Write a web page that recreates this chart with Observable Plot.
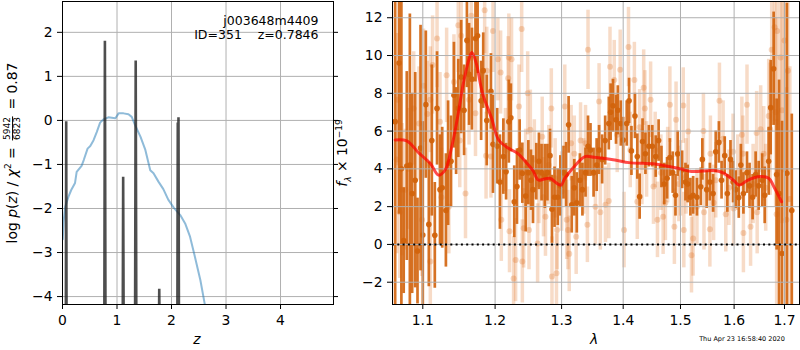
<!DOCTYPE html>
<html><head><meta charset="utf-8">
<script src="https://cdn.jsdelivr.net/npm/d3@7"></script>
<script src="https://cdn.jsdelivr.net/npm/@observablehq/plot@0.6"></script>
<style>
body{margin:0;background:#fff;}
#wrap{position:relative;width:800px;height:350px;font-family:"DejaVu Sans",sans-serif;overflow:hidden;background:#fff}
#wrap svg{position:absolute;top:0;overflow:visible}
.lbl{position:absolute;color:#000;white-space:nowrap;line-height:1}
.rot{transform:translate(-50%,-50%) rotate(-90deg)}
.frac{display:inline-block;vertical-align:middle;font-size:9px;text-align:center;line-height:1.05;margin:0 2px}
.frac span{display:block;padding:0 1px}
.frac span.num{border-bottom:0.8px solid #000}
</style></head><body><div id="wrap"></div>
<script>
// ---------- left panel data: log p(z) ----------
const zTicks = [0, 1, 2, 3, 4];
const pTicks = [-4, -3, -2, -1, 0, 1, 2];
const blueZ = [0.005,0.02,0.05,0.11,0.16,0.23,0.26,0.35,0.39,0.46,0.51,0.57,0.63,0.69,0.75,0.84,0.97,1.03,1.12,1.21,1.27,1.33,1.43,1.52,1.61,1.67,1.76,1.85,1.94,2.04,2.16,2.25,2.34,2.43,2.53,2.61,2.70];
const blueP = [-2.7,-2.3,-1.96,-1.73,-1.58,-1.42,-1.17,-1.03,-0.9,-0.64,-0.58,-0.45,-0.26,-0.05,0.02,0.07,0.05,0.16,0.16,0.14,0.08,-0.1,-0.37,-0.67,-1.13,-1.2,-1.39,-1.56,-1.8,-1.98,-2.15,-2.34,-2.64,-3.1,-3.63,-4.17,-4.9];
const spikeZ = [0.04,0.062,0.068,0.074,0.10, 0.745,0.768,0.778,0.788,0.81, 1.09,1.106,1.113,1.121,1.14, 1.30,1.332,1.343,1.354,1.39, 1.76,1.771,1.775,1.779,1.79, 2.08,2.108,2.115,2.12,2.128,2.136,2.17];
const spikeP = [-12,-4.3,-0.02,-4.3,-12, -12,-4.3,1.81,-4.3,-12, -12,-4.3,-1.28,-4.3,-12, -12,-4.3,1.36,-4.3,-12, -12,-4.5,-3.82,-4.5,-12, -12,-4.3,-0.05,-2.0,0.07,-4.3,-12];
const annotLines = ["j003648m4409", "ID=351\u00a0\u00a0\u00a0\u00a0z=0.7846"];

// ---------- right panel data: spectrum ----------
const lamTicks = [1.1, 1.2, 1.3, 1.4, 1.5, 1.6, 1.7];
const fTicks = [-2, 0, 2, 4, 6, 8, 10, 12];
const darkLam = [1.064,1.069,1.072,1.075,1.079,1.083,1.086,1.090,1.093,1.097,1.100,1.104,1.108,1.112,1.116,1.119,1.123,1.126,1.131,1.134,1.138,1.142,1.145,1.148,1.152,1.156,1.160,1.163,1.167,1.172,1.175,1.180,1.183,1.188,1.194,1.197,
1.203,1.207,1.212,1.216,1.220,1.223,1.228,1.232,1.236,1.240,1.245,1.249,1.253,1.256,1.261,1.265,1.269,1.274,1.278,1.282,1.285,1.289,1.294,1.298,1.303,1.307,1.311,1.316,1.320,1.324,1.329,1.333,1.338,1.342,1.346,1.351,1.356,1.360,
1.365,1.370,1.376,1.379,1.383,1.388,1.391,1.396,1.400,1.406,1.410,1.414,1.420,1.424,1.428,1.433,1.438,1.444,1.450,1.456,1.461,1.466,1.471,1.476,1.481,1.486,1.491,1.495,1.503,1.509,1.513,1.518,1.523,1.530,1.537,
1.540,1.548,1.554,1.560,1.565,1.571,1.576,1.582,1.587,1.593,1.598,1.603,1.609,1.613,1.618,1.625,1.630,1.636,1.642,1.648,1.655,1.660,1.668,1.672,1.678,1.684,1.689,1.695,1.705,1.715];
const darkFlux = [6.5,9.6,4.0,0.2,4.15,4.2,2.7,3.4,-0.35,5.1,0.5,7.4,1.06,5.5,0.48,7.2,2.9,3.0,1.8,4.3,4.4,7.9,6.0,7.2,8.86,7.1,10.8,9.0,8.75,10.9,11.05,7.6,9.2,6.56,8.1,5.3,
5.2,3.3,4.65,3.85,6.5,6.7,2.26,3.06,5.0,3.77,2.56,3.8,3.4,2.9,3.85,4.4,3.8,3.6,3.8,4.7,1.86,2.5,2.5,3.1,3.8,3.7,6.33,2.1,3.0,2.2,3.4,2.9,3.8,5.2,5.0,3.8,4.2,5.0,
4.5,5.5,6.4,7.0,7.34,6.6,7.1,6.4,5.53,6.4,7.6,4.95,6.8,4.65,2.53,5.45,4.8,5.2,5.2,4.65,5.5,4.1,3.2,3.5,4.6,3.8,2.6,4.8,3.95,3.3,3.2,2.5,2.6,2.5,3.05,
4.5,2.9,3.3,2.7,4.9,5.4,3.4,4.7,2.7,4.5,3.3,2.9,2.48,4.2,2.7,3.8,3.1,2.5,3.7,3.1,3.4,2.6,4.4,7.24,9.3,3.7,2.7,-0.48,3.77,1.8];
const darkErr = [10,8,9,2.8,5,8,5.3,5.7,2.8,6.5,6,3.9,3.3,4,2.8,3,2.9,3.2,3,3.3,2.4,2.8,2.3,2.6,3,2.4,2.5,2.7,2.7,2.3,2,2.1,2,2.4,2,2.6,
2,2.5,2,1.5,2.2,1.8,1.9,2,1.6,1.6,1.9,1.7,1.6,1.8,1.5,1.5,1.5,1.7,1.5,1.4,1.8,1.6,1.5,1.6,1.4,1.7,1.5,1.5,1.5,1.6,1.4,1.4,1.3,1.6,1.4,1.3,1.4,1.3,
1.3,1.3,1.4,1.5,1.4,1.3,1.3,1.2,1.2,1.2,1.2,1.3,1.2,1.2,1.2,1.2,1.1,1.1,1.1,1.1,1.1,1.1,1.1,1.1,1.0,1.1,1.1,1.2,1.0,1.0,1.0,1.0,1.0,1.0,1.0,
1.1,1.0,1.0,1.0,1.1,1.1,1.0,1.0,1.0,1.0,1.1,1.0,1.1,1.1,1.1,1.1,1.2,1.2,1.2,1.3,1.4,1.5,1.8,2.5,3,4,6,7,9,5.1];
const lightLam = [1.066,1.067,1.070,1.073,1.077,1.081,1.088,1.095,1.099,1.101,1.106,1.110,1.110,1.113,1.119,1.123,1.125,1.132,1.135,1.142,1.148,1.150,1.152,1.158,1.163,1.166,1.172,1.185,1.187,1.188,1.194,1.197,
1.204,1.208,1.209,1.219,1.220,1.221,1.224,1.227,1.230,1.235,1.239,1.240,1.242,1.248,1.250,1.252,1.258,1.263,1.270,1.272,1.275,1.284,1.285,1.290,1.292,1.293,1.305,1.308,1.310,1.312,1.315,1.320,1.323,1.330,1.338,1.341,1.342,1.354,1.360,
1.362,1.3705,1.376,1.378,1.385,1.395,1.4015,1.409,1.419,1.424,1.432,1.435,1.437,1.440,1.447,1.452,1.459,1.465,1.469,1.473,1.481,1.489,1.492,1.500,1.505,1.506,1.514,1.520,1.523,1.530,
1.542,1.543,1.554,1.555,1.561,1.572,1.579,1.584,1.598,1.599,1.615,1.617,1.618,1.625,1.632,1.644,1.645,1.652,1.658,1.668,1.671,1.674,1.680,1.682,1.684,1.685,1.692,1.695,1.700,1.704,1.707,1.711,
1.215,1.245,1.265,1.280,1.300,1.335,1.390,1.412,1.428,1.455,1.477,1.497,1.510,1.565,1.590,1.607,1.637,1.662];
const lightFlux = [4.5,7.66,1.7,2.9,2.9,4.0,7.2,6.4,1.3,8.4,6.9,7.66,-0.9,9.5,10.9,6.5,2.5,8.95,2.0,8.6,11.6,5.5,11.05,2.7,7.66,12.1,6.95,12.4,4.7,9.2,4.65,11.3,
9.8,9.1,1.3,8.8,9.9,0.7,9.8,-1.8,-0.83,7.3,11.4,-0.9,0.85,8.0,0.76,6.07,4.5,0.05,5.7,2.5,1.47,7.2,-1.7,3.5,-1.53,0.76,7.3,1.3,0.76,-0.5,5.36,4.8,0.41,5.5,5.36,1.04,10.3,2.0,7.57,
1.7,2.1,2.3,9.4,8.7,9.25,0.76,10.45,8.7,2.26,4.1,8.3,7.2,4.5,7.66,3.06,1.3,3.8,1.47,2.2,7.4,0.94,6.6,3.5,7.35,0.76,5.98,-0.57,0.32,2.0,
6.0,1.7,0.8,4.8,2.2,7.6,5.6,1.6,4.9,1.9,5.8,4.8,0.6,7.4,0.94,5.9,1.7,6.1,4.8,6.8,6.1,10.3,11.5,7.0,1.6,11.3,9.9,7.1,10.8,1.3,9.2,2.4,
5.0,4.0,3.2,4.2,2.8,3.6,5.8,5.0,6.2,5.0,4.2,3.2,3.6,3.4,3.0,3.8,3.2,3.0];
const lightErr = [5,3.5,3.5,3.5,3.2,3.2,3,3,3,3,2.8,2.8,2.8,2.6,2.6,2.6,2.6,2.5,2.5,2.5,2.5,2.5,2.4,2.4,2.4,2.4,2.3,2.3,2.3,2.3,2.2,2.2,
2.2,2.2,2.2,2.2,2.3,2.2,2.2,2.2,2.2,2.2,2.3,2.2,2.1,2.2,2.1,2.1,2.1,2.1,2.1,2.1,2.1,2.1,2.1,2.1,2.1,2.1,2.2,2.1,2.1,2.0,2.0,2.0,2.0,2.0,2.0,2.0,2.1,2.0,2.0,
2,2,2,2.1,2.1,2.1,2,2.1,2,2,2,2,2,2,2,2,2,2,2,2,2,2,2,2,2,2,2,2,2,2,
2,2,2,2,2,2,2,2,2,2,2,2,2.1,2.1,2.1,2.2,2.2,2.3,2.5,3,3.5,4,5,5,5,5,6,6,7,7,7,7,
2.2,2.1,2.1,2.1,2.1,2.0,2.0,2.0,2.0,2.0,2.0,2.0,2.0,2.0,2.0,2.0,2.1,2.3];
const modelLam = [1.064,1.079,1.095,1.110,1.121,1.130,1.139,1.148,1.155,1.164,1.167,1.173,1.182,1.195,1.205,1.219,1.233,1.247,1.256,1.264,1.272,1.282,1.290,1.299,1.305,1.320,1.337,1.352,1.386,1.41,1.457,1.50,1.52,1.561,1.578,1.598,1.61,1.627,1.651,1.668,1.68,1.694];
const modelFlux = [5.53,5.48,4.83,4.29,3.67,3.94,5.17,6.94,8.53,9.94,10.16,9.6,8.0,6.68,5.54,5.1,4.82,4.29,3.9,3.41,3.45,3.5,3.3,3.13,3.5,4.13,4.65,4.61,4.47,4.33,4.25,4.0,3.86,3.91,3.8,3.41,3.14,3.41,3.59,3.5,2.97,2.26];

// ---------- build ----------
const minus = d => (d < 0 ? "\u2212" : "") + Math.abs(d);
const blue = blueZ.map((z, i) => ({z, p: blueP[i]}));
const spikes = spikeZ.map((z, i) => ({z, p: spikeP[i]}));
const dark = darkLam.map((l, i) => ({l, f: darkFlux[i], e: darkErr[i]}));
const light = lightLam.map((l, i) => ({l, f: lightFlux[i], e: lightErr[i]}));
const model = modelLam.map((l, i) => ({l, f: modelFlux[i]}));
const style = {fontFamily: "DejaVu Sans", fontSize: "13.9px", background: "transparent", color: "#000"};
const gridStyle = {stroke: "#b0b0b0", strokeOpacity: 1, strokeWidth: 1};

const left = Plot.plot({
  width: 340, height: 350, marginLeft: 62, marginRight: 7, marginTop: 1, marginBottom: 46,
  style,
  x: {domain: [0, 4.972]},
  y: {domain: [-4.18, 2.70]},
  marks: [
    Plot.gridX({ticks: zTicks, ...gridStyle}),
    Plot.gridY({ticks: pTicks, ...gridStyle}),
    Plot.line(blue, {x: "z", y: "p", stroke: "#1f77b4", strokeOpacity: 0.5, strokeWidth: 2, clip: true}),
    Plot.line(spikes, {x: "z", y: "p", stroke: "#222", strokeOpacity: 0.8, strokeWidth: 2.6, strokeLinejoin: "miter", clip: true}),
    Plot.axisX({ticks: zTicks, tickFormat: d => String(d), tickSize: 5, tickPadding: 6, label: null}),
    Plot.axisY({ticks: pTicks, tickFormat: minus, tickSize: 5, tickPadding: 5, label: null}),
    Plot.axisY({anchor: "right", ticks: pTicks, tickFormat: () => "", tickSize: 4, label: null}),
    Plot.frame({stroke: "#000", strokeWidth: 1}),
    Plot.text([annotLines.join("\n")], {frameAnchor: "top-right", dx: -15, dy: 13, lineAnchor: "top", textAnchor: "end", fontSize: 12.5, lineHeight: 1.15})
  ]
});

const right = Plot.plot({
  width: 460, height: 350, marginLeft: 52, marginRight: 1, marginTop: 1, marginBottom: 46,
  style,
  x: {type: "log", domain: [1.0606, 1.731]},
  y: {domain: [-3.18, 12.86]},
  marks: [
    Plot.ruleX(light, {x: "l", y1: d => d.f - d.e, y2: d => d.f + d.e, stroke: "#e07020", strokeOpacity: 0.25, strokeWidth: 3.5, clip: true}),
    Plot.dot(light, {x: "l", y: "f", r: 3, fill: "#e07020", fillOpacity: 0.28, stroke: "none", clip: true}),
    Plot.ruleX(dark, {x: "l", y1: d => d.f - d.e, y2: d => d.f + d.e, stroke: "#d2630c", strokeOpacity: 0.9, strokeWidth: 2.7, clip: true}),
    Plot.dot(dark, {x: "l", y: "f", r: 2.8, fill: "#d2630c", fillOpacity: 0.95, stroke: "none", clip: true}),
    Plot.gridX({ticks: lamTicks, ...gridStyle}),
    Plot.gridY({ticks: fTicks, ...gridStyle}),
    Plot.line(model, {x: "l", y: "f", stroke: "red", strokeOpacity: 0.7, strokeWidth: 3, curve: "catmull-rom", clip: true}),
    Plot.ruleY([0], {stroke: "#000", strokeWidth: 2, strokeDasharray: "2,3.3"}),
    Plot.axisX({ticks: lamTicks, tickFormat: d => d.toFixed(1), tickSize: 5, tickPadding: 6, label: null}),
    Plot.axisY({ticks: fTicks, tickFormat: minus, tickSize: 5, tickPadding: 5, label: null}),
    Plot.frame({stroke: "#000", strokeWidth: 1})
  ]
});

const wrap = document.getElementById("wrap");
left.style.left = "0px";
right.style.left = "340px";
wrap.appendChild(left);
wrap.appendChild(right);

function addLabel(html, x, y, cls, size) {
  const d = document.createElement("div");
  d.className = "lbl " + (cls || "");
  d.innerHTML = html;
  d.style.left = x + "px";
  d.style.top = y + "px";
  d.style.fontSize = (size || 13.9) + "px";
  if (!cls) d.style.transform = "translate(-50%,-50%)";
  wrap.appendChild(d);
}
addLabel('log <i>p</i>(<i>z</i>) / <i>χ</i><sup style="font-size:9px">2</sup> = <span class="frac"><span class="num">5942</span><span>6823</span></span> = 0.87', 13, 153, "rot");
addLabel('<i>f</i><sub style="font-size:9px"><i>λ</i></sub> × 10<sup style="font-size:9px">−19</sup>', 344, 153, "rot");
addLabel('<i>z</i>', 197, 340);
addLabel('<i>λ</i>', 594, 340);
addLabel('Thu Apr 23 16:58:40 2020', 742, 339, "", 6.5);
</script>
</body></html>
